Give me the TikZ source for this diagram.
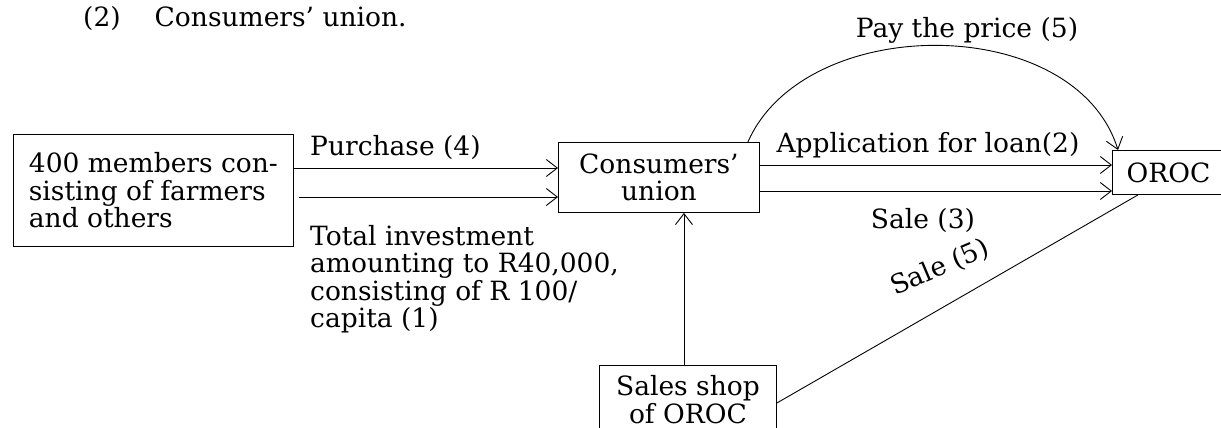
\documentclass[tikz,border=0pt]{standalone}
\usepackage{fontspec}
\setmainfont{DejaVu Serif}
\usetikzlibrary{arrows.meta,calc}
\begin{document}
\begin{tikzpicture}[x=1pt,y=-1pt,
  every node/.style={font=\fontsize{26.5}{27.5}\selectfont, inner sep=0pt},
  box/.style={draw, line width=0.9pt},
  conn/.style={line width=0.9pt, -{Straight Barb[length=11pt,width=17pt,line width=0.9pt]}},
  plain/.style={line width=0.9pt}]
\useasboundingbox (0,0) rectangle (1221,428);

% title
\node[anchor=base west] (title) at (83,27) {(2)\hspace{34pt}Consumers' union.};

% boxes
\node[box, anchor=north west, minimum width=280, minimum height=112, align=left] (lbox) at (13,134)
  {400 members con-\\sisting of farmers\\and others};
\node[box, anchor=north west, minimum width=201, minimum height=70, align=center] (cu) at (558,142)
  {Consumers'\\union};
\node[box, anchor=north west, minimum width=112, minimum height=44] (oroc) at (1112,150) {OROC};
\node[box, anchor=north west, minimum width=177, minimum height=68, align=center] (ss) at (599,365)
  {Sales shop\\of OROC};

% helper coordinates
\coordinate (y1) at (0,168);
\coordinate (y2) at (0,197);
\coordinate (y3) at (0,165);
\coordinate (y4) at (0,191);
\coordinate (ssn) at ($(ss.north)+(-4,0)$);

% connectors
\draw[conn] (lbox.east |- y1) -- (cu.west |- y1);
\draw[conn] ($(lbox.east |- y2)+(5,0)$) -- (cu.west |- y2);
\draw[conn] (cu.east |- y3) -- (oroc.west |- y3);
\draw[conn] (cu.east |- y4) -- (oroc.west |- y4);
\draw[conn] ($(cu.north east)+(-12,0)$) .. controls (805,12) and (1075,12) .. ($(oroc.north west)+(6,0)$);
\draw[conn] (ssn) -- (ssn |- cu.south);
\draw[plain] ($(ss.north east)+(0,38)$) -- ($(oroc.south west)+(26,0)$);

% labels
\node[anchor=base west] (purch) at (310,155) {Purchase (4)};
\node[anchor=north west, align=left] (inv) at (310,225)
  {Total investment\\amounting to R40,000,\\consisting of R 100/\\capita (1)};
\node[anchor=base] (appl) at (928,152) {Application for loan(2)};
\node[anchor=base] (sale3) at (923,228) {Sale (3)};
\node[anchor=base] (pay) at (967,38) {Pay the price (5)};
\node[anchor=base, rotate=23] (sale5) at (943,275) {Sale (5)};
\end{tikzpicture}
\end{document}
